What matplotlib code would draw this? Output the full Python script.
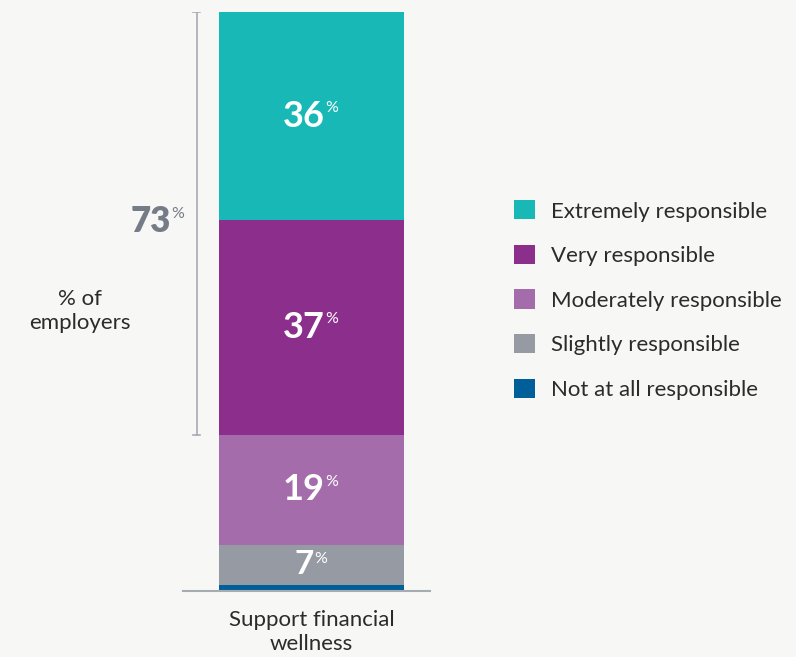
import matplotlib.pyplot as plt
import numpy as np

# data
categories = ["Support financial\nwellness"]
levels = ["Not at all responsible", "Slightly responsible", "Moderately responsible",
          "Very responsible", "Extremely responsible"]
values = [1, 7, 19, 37, 36]
labels = ["", "7", "19", "37", "36"]
colors = ["#005f99", "#969ba3", "#a56cac", "#8c2f8c", "#17b8b6"]
bg = "#f7f7f5"

plt.rcParams['font.family'] = ['Lato', 'DejaVu Sans']

fig = plt.figure(figsize=(7.96, 6.57), dpi=100, facecolor=bg)
ax = fig.add_axes([0, 66 / 657, 1, 579 / 657])
ax.set_facecolor(bg)

bottom = 0
for v, lab, c, name in zip(values, labels, colors, levels):
    ax.bar(0, v, width=1, bottom=bottom, color=c, label=name)
    if lab:
        t = ax.text(-0.04, bottom + v / 2, lab, ha='center', va='center', color='white',
                    fontsize=26 if v > 10 else 24, fontweight='bold')
        ax.annotate('%', xy=(1, 1), xycoords=t, xytext=(0.2, -1), textcoords='offset points',
                    ha='left', va='top', color='white', fontsize=11.5)
    bottom += v

ax.set_xlim(-311.5 / 185, (796 - 311.5) / 185)
ax.set_ylim(0, 100)
ax.axis('off')

# baseline
ax.plot([(183 - 311.5) / 185, (430 - 311.5) / 185], [0, 0], color="#a7abb2", lw=1.5,
        clip_on=False)

# bracket for top two
top_share = values[-1] + values[-2]
bx = (197 - 311.5) / 185
cap = 3.5 / 185
ax.plot([bx, bx], [100 - top_share, 100], color="#a7abb2", lw=1.2)
ax.plot([bx - cap, bx + cap], [100, 100], color="#a7abb2", lw=1.2)
ax.plot([bx - cap, bx + cap], [100 - top_share, 100 - top_share], color="#a7abb2", lw=1.2)
t73 = ax.text((151 - 311.5) / 185, (591 - 222) / 579 * 100, str(top_share), ha='center', va='center',
              color="#767c87", fontsize=25, fontweight='heavy')
ax.annotate('%', xy=(1, 1), xycoords=t73, xytext=(0.2, -1), textcoords='offset points',
            ha='left', va='top', color="#767c87", fontsize=11.5)

fig.text(80 / 796, 1 - 311 / 657, "% of\nemployers", ha='center', va='center',
         fontsize=16, color="#2b2b2b", linespacing=1.3)

# category label
fig.text(311.5 / 796, 1 - 632 / 657, categories[0], ha='center', va='center',
         fontsize=16, color="#2b2b2b", linespacing=1.25)

# legend
handles, lbls = ax.get_legend_handles_labels()
leg = fig.legend(handles[::-1], lbls[::-1], loc='center left', bbox_to_anchor=(494 / 796, 1 - 300 / 657),
                 frameon=False, fontsize=16, handlelength=0.95, handleheight=0.95,
                 handletextpad=0.7, labelspacing=1.05, labelcolor="#2b2b2b")

fig.savefig("out.png", dpi=100, facecolor=bg)
